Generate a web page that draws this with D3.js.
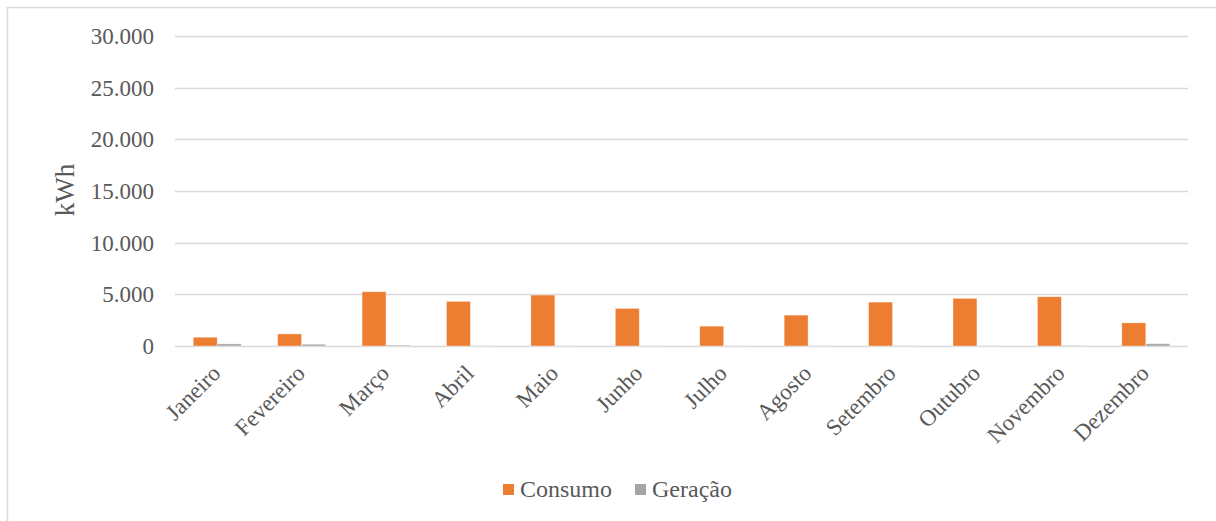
<!DOCTYPE html>
<html>
<head>
<meta charset="utf-8">
<script src="https://cdn.jsdelivr.net/npm/d3@7"></script>
<style>
  html, body { margin: 0; padding: 0; background: #fff; }
  svg { display: block; }
  text { font-family: "Liberation Serif", "Times New Roman", serif; fill: #595959; }
</style>
</head>
<body>
<svg id="chart" width="1216" height="521"></svg>
<script>
// Monthly energy: consumption vs. generation (kWh)
const months = ["Janeiro", "Fevereiro", "Março", "Abril", "Maio", "Junho",
                "Julho", "Agosto", "Setembro", "Outubro", "Novembro", "Dezembro"];
const consumo = [850, 1170, 5250, 4320, 4930, 3640, 1920, 2990, 4250, 4610, 4770, 2240];
const geracao = [200, 170, 90, 20, 10, 10, 10, 20, 40, 40, 50, 220];
const seriesNames = ["Consumo", "Geração"];
const yTicks = [0, 5000, 10000, 15000, 20000, 25000, 30000];

const colors = { Consumo: "#ED7D31", "Geração": "#A5A5A5" };
const serif = "Liberation Serif, Times New Roman, serif";
const fontSize = 23;

const svg = d3.select("#chart");

// outer chart frame
svg.append("rect")
  .attr("x", 7.5).attr("y", 7.5)
  .attr("width", 1230).attr("height", 530)
  .attr("fill", "none").attr("stroke", "#D9D9D9").attr("stroke-width", 1.5);

const plot = { left: 175, right: 1188, top: 36, bottom: 346 };

const x = d3.scaleBand().domain(months).range([plot.left, plot.right]).paddingInner(0).paddingOuter(0);
const inner = d3.scaleBand().domain(seriesNames).range([0, x.bandwidth()]).paddingInner(0).paddingOuter(0.76);
const y = d3.scaleLinear().domain([0, 30000]).range([plot.bottom, plot.top]);

const fmt = v => d3.format(",")(v).replace(/,/g, ".");

// gridlines
svg.append("g")
  .selectAll("line")
  .data(yTicks)
  .join("line")
  .attr("x1", plot.left).attr("x2", plot.right)
  .attr("y1", d => Math.round(y(d)) + 0.5).attr("y2", d => Math.round(y(d)) + 0.5)
  .attr("stroke", "#D9D9D9").attr("stroke-width", 1.5);

// y axis labels
const yAxis = d3.axisLeft(y).tickValues(yTicks).tickFormat(fmt).tickSize(0).tickPadding(21);
const yg = svg.append("g").attr("transform", `translate(${plot.left},0)`).call(yAxis);
yg.attr("font-family", serif);
yg.select(".domain").remove();
yg.selectAll("text")
  .attr("font-size", fontSize)
  .attr("font-family", serif)
  .attr("fill", "#595959");

// axis title
svg.append("text")
  .attr("transform", "translate(74,190) rotate(-90)")
  .attr("text-anchor", "middle")
  .attr("font-family", serif)
  .attr("font-size", 27)
  .text("kWh");

// bars
const data = months.map((m, i) => ({ month: m, values: [
  { key: "Consumo", value: consumo[i] },
  { key: "Geração", value: geracao[i] }
]}));

const groups = svg.append("g")
  .selectAll("g")
  .data(data)
  .join("g")
  .attr("transform", d => `translate(${x(d.month)},0)`);

groups.selectAll("rect")
  .data(d => d.values)
  .join("rect")
  .attr("x", d => inner(d.key))
  .attr("width", inner.bandwidth())
  .attr("y", d => y(d.value))
  .attr("height", d => y(0) - y(d.value))
  .attr("fill", d => colors[d.key])
  .attr("stroke", "#FFFFFF").attr("stroke-opacity", 0.5).attr("stroke-width", 0.75);

// category labels, rotated
svg.append("g")
  .selectAll("text")
  .data(months)
  .join("text")
  .attr("transform", d => `translate(${x(d) + x.bandwidth() / 2 - 1},${plot.bottom + 23}) rotate(-45)`)
  .attr("text-anchor", "end")
  .attr("dy", "0.35em")
  .attr("font-family", serif)
  .attr("font-size", fontSize)
  .text(d => d);

// legend
const legend = svg.append("g").attr("transform", "translate(503,484)");
const legendItems = [
  { key: "Consumo", x: 0 },
  { key: "Geração", x: 132 }
];
const li = legend.selectAll("g").data(legendItems).join("g")
  .attr("transform", d => `translate(${d.x},0)`);
li.append("rect").attr("width", 11).attr("height", 11).attr("fill", d => colors[d.key]);
li.append("text").attr("x", 17).attr("y", 13).attr("font-family", serif).attr("font-size", 24).text(d => d.key);
</script>
</body>
</html>
